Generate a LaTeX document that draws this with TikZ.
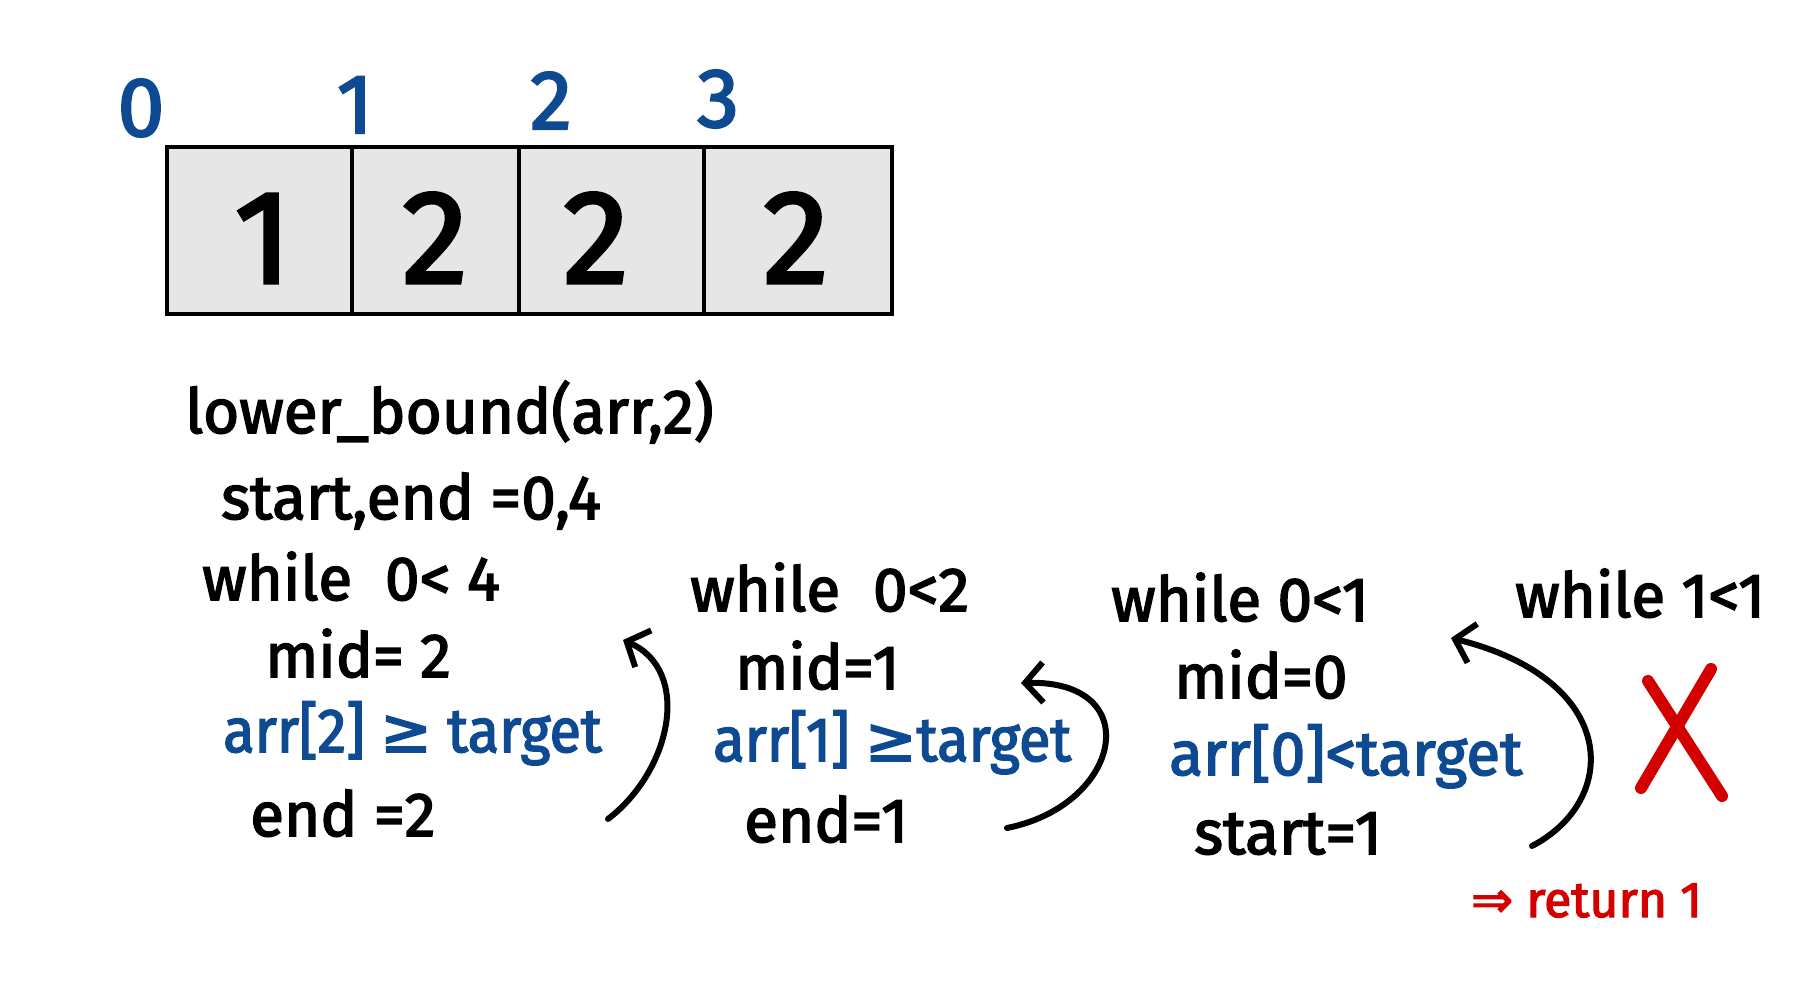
\documentclass[tikz,border=0pt]{standalone}
\usepackage{fontspec}
\setmainfont{Fira Sans}[FakeBold=2.5]
\newfontfamily\narrowfont{Fira Sans}[FakeBold=2.5, FakeStretch=0.93]
\newfontfamily\symfont{DejaVu Sans}[FakeBold=2.5]
\usetikzlibrary{arrows.meta}
\definecolor{hblue}{RGB}{14,74,145}
\definecolor{hred}{RGB}{212,0,0}
\definecolor{cellgray}{RGB}{230,230,230}
\begin{document}
\begin{tikzpicture}[x=1pt,y=-1pt,
  code/.style={anchor=base west, inner sep=0pt, font=\fontsize{62}{70}\selectfont},
  bluecode/.style={code, text=hblue},
  idx/.style={anchor=base, inner sep=0pt, text=hblue, font=\fontsize{84}{90}\selectfont},
  digit/.style={anchor=base, inner sep=0pt, font=\fontsize{133}{140}\selectfont},
  cellbox/.style={draw=black, line width=3.5pt, fill=cellgray},
  flow/.style={draw=black, line width=6pt, line cap=round, -{Straight Barb[length=18pt,width=40pt,line width=6pt]}},
  cross/.style={draw=hred, line width=12pt, line cap=round},
  ]
\useasboundingbox (0,0) rectangle (1809,1000);
\fill[white] (0,0) rectangle (1809,1000);
% array
\draw[cellbox] (167,147) rectangle (892,314);
\draw[line width=3.5pt] (352,147) -- (352,314) (519,147) -- (519,314) (704,147) -- (704,314);
\node[digit] (v0) at (263,283) {1};
\node[digit] (v1) at (435,283) {2};
\node[digit] (v2) at (596,283) {2};
\node[digit] (v3) at (796,283) {2};
% indices
\node[idx] (i0) at (141,136) {0};
\node[idx] (i1) at (355,133) {1};
\node[idx] (i2) at (551,129) {2};
\node[idx] (i3) at (718,127) {3};
% column 1
\node[code] (lb) at (185,433) {lower\_bound(arr,2)};
\node[code] (se) at (221,519) {start,end =0,4};
\node[code] (w1) at (202,600) {while\ \ 0< 4};
\node[code] (m1) at (265,677) {mid= 2};
\node[bluecode] (c1) at (223,752) {\narrowfont arr[2] {\symfont ≥} target};
\node[code] (e1) at (250,836) {end =2};
% column 2
\node[code] (w2) at (690,611) {while\ \ 0<2};
\node[code] (m2) at (735,689) {mid=1};
\node[bluecode] (c2) at (713,761) {\narrowfont arr[1] {\symfont ≥}target};
\node[code] (e2) at (744,842) {end=1};
% column 3
\node[code] (w3) at (1111,621) {while 0<1};
\node[code] (m3) at (1174,698) {mid=0};
\node[bluecode] (c3) at (1169,775) {arr[0]<target};
\node[code] (e3) at (1194,854) {start=1};
% column 4
\node[code] (w4) at (1515,617) {while 1<1};
\node[anchor=base west, inner sep=0pt, text=hred, font=\fontsize{50}{56}\selectfont] (ret) at (1471,917) {{\symfont ⇒} return 1};
% cross
\draw[cross] (1648,681) -- (1722,796);
\draw[cross] (1711,669) -- (1641,788);
% arrows
\coordinate (a1s) at (608,819);
\coordinate (a1e) at (623,640);
\coordinate (a2s) at (1007,828);
\coordinate (a2e) at (1021,683);
\coordinate (a3s) at (1532,846);
\coordinate (a3e) at (1451,638);
\draw[flow] (a1s) .. controls (672,770) and (692,670) .. (a1e);
\draw[flow] (a2s) .. controls (1122,805) and (1147,680) .. (a2e);
\draw[flow] (a3s) .. controls (1620,800) and (1620,680) .. (a3e);
\end{tikzpicture}
\end{document}
